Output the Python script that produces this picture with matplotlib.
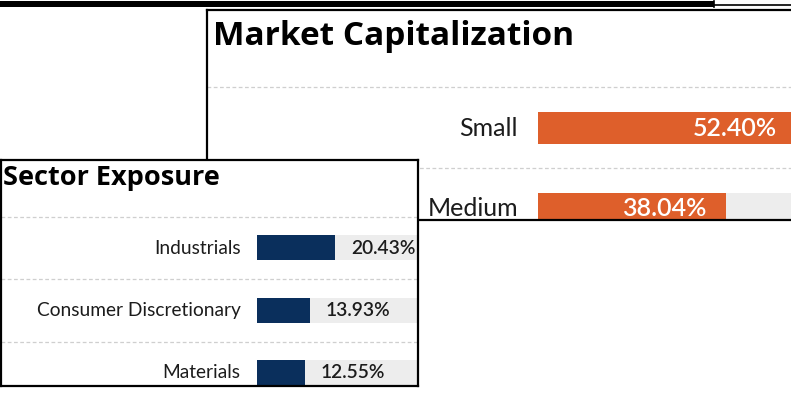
import matplotlib
matplotlib.use("Agg")
import matplotlib.pyplot as plt
from matplotlib.patches import Rectangle
from matplotlib.lines import Line2D
from matplotlib.transforms import offset_copy

plt.rcParams["font.family"] = ["Lato", "DejaVu Sans"]

# data
cap_labels = ["Small", "Medium"]
cap_values = [52.40, 38.04]

sector_labels = ["Industrials", "Consumer Discretionary", "Materials"]
sector_values = [20.43, 13.93, 12.55]

ORANGE = "#DE5F2B"
NAVY = "#0A2F5C"
TRACK = "#EDEDED"
GRID = "#CFCFCF"
TEXT = "#1c1c1c"
TITLE_FONT = ["Open Sans", "DejaVu Sans"]

W, H = 791, 411
fig = plt.figure(figsize=(W / 100, H / 100), dpi=100)
fig.patch.set_facecolor("white")


def add_px_axes(x, y, w, h):
    # axes placed by pixel box measured from the top-left corner
    return fig.add_axes([x / W, 1 - (y + h) / H, w / W, h / H])


def draw_panel(ax, title, labels, values, color, px_per_pct, bar_x0, panel_x0,
               panel_w, row0, row_step, panel_top, panel_h, bar_h,
               title_size, label_size, value_size, inside, title_dx, title_dy,
               label_pad, value_pad):
    n = len(labels)
    # x: percent units, with 0 sitting at the bar start
    ax.set_xlim(-(bar_x0 - panel_x0) / px_per_pct,
                (panel_x0 + panel_w - bar_x0) / px_per_pct)
    # y: row units, row i centred at row0 + i*row_step pixels
    ax.set_ylim((panel_top + panel_h - row0) / row_step,
                (panel_top - row0) / row_step)
    ax.set_facecolor("white")
    ax.set_xticks([])
    ax.set_yticks([])
    for sp in ax.spines.values():
        sp.set_linewidth(1.6)
        sp.set_color("black")

    rows = list(range(n))
    ax.barh(rows, [100] * n, height=bar_h, color=TRACK, zorder=1)
    ax.barh(rows, values, height=bar_h, color=color, zorder=2)
    for r in rows:
        ax.axhline(r - 0.5, color=GRID, lw=0.9, ls=(0, (3, 2)), zorder=0)

    lab_tr = offset_copy(ax.transData, fig=fig, x=-label_pad, y=0, units="dots")
    for r, lab in zip(rows, labels):
        ax.text(0, r, lab, transform=lab_tr, ha="right", va="center",
                fontsize=label_size, color=TEXT, zorder=3)

    if inside:
        val_tr = offset_copy(ax.transData, fig=fig, x=-value_pad, y=0, units="dots")
        for r, v in zip(rows, values):
            ax.text(v, r, f"{v:.2f}%", transform=val_tr, ha="right", va="center",
                    fontsize=value_size, color="white", fontweight="semibold",
                    zorder=3)
    else:
        val_tr = offset_copy(ax.transData, fig=fig, x=value_pad, y=0, units="dots")
        for r, v in zip(rows, values):
            ax.text(v, r, f"{v:.2f}%", transform=val_tr, ha="left", va="center",
                    fontsize=value_size, color=TEXT, fontweight="semibold",
                    zorder=3)

    t_tr = offset_copy(ax.transAxes, fig=fig, x=title_dx, y=-title_dy, units="dots")
    ax.text(0, 1, title, transform=t_tr, ha="left", va="baseline",
            fontsize=title_size, fontweight="bold", color="black",
            family=TITLE_FONT)


# market capitalization panel (runs off the right edge)
mc_x, mc_y, mc_w, mc_h = 207, 10, 900, 210
ax_mc = add_px_axes(mc_x, mc_y, mc_w, mc_h)
draw_panel(ax_mc, "Market Capitalization", cap_labels, cap_values, ORANGE,
           px_per_pct=4.94, bar_x0=538, panel_x0=mc_x, panel_w=mc_w,
           row0=128, row_step=81, panel_top=mc_y, panel_h=mc_h, bar_h=32 / 81,
           title_size=24, label_size=18, value_size=18, inside=True,
           title_dx=6, title_dy=35, label_pad=20, value_pad=20)

# sector exposure panel, on top
se_x, se_y, se_w, se_h = 1, 160, 417, 226
ax_se = add_px_axes(se_x, se_y, se_w, se_h)
draw_panel(ax_se, "Sector Exposure", sector_labels, sector_values, NAVY,
           px_per_pct=3.84, bar_x0=256.5, panel_x0=se_x, panel_w=se_w,
           row0=248, row_step=62.5, panel_top=se_y, panel_h=se_h, bar_h=0.4,
           title_size=19.5, label_size=13.8, value_size=13.8, inside=False,
           title_dx=2, title_dy=25, label_pad=16, value_pad=16)

# strip along the top edge
fig.add_artist(Rectangle((0, 1 - 7 / H), 714 / W, 6 / H, transform=fig.transFigure,
                         facecolor="black", edgecolor="none"))
fig.add_artist(Line2D([714 / W, 1], [1 - 5.5 / H, 1 - 5.5 / H],
                      transform=fig.transFigure, color="black", lw=1.2))
fig.add_artist(Line2D([714 / W, 714 / W], [1 - 1 / H, 1 - 7 / H],
                      transform=fig.transFigure, color="black", lw=1.2))

fig.savefig("out.png", dpi=100)
